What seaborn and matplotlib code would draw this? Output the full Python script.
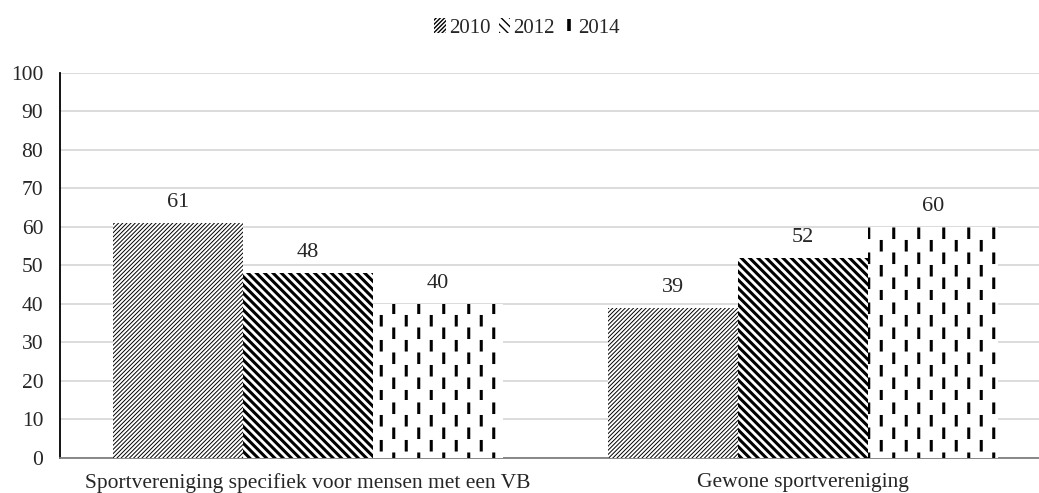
import warnings
import numpy as np
import pandas as pd
import matplotlib
matplotlib.use("Agg")
import matplotlib.pyplot as plt
import matplotlib.hatch as mhatch
from matplotlib.path import Path
from matplotlib.patches import Patch
from matplotlib.lines import Line2D
import seaborn as sns

warnings.filterwarnings("ignore")

### data
categories = ["Sportvereniging specifiek voor mensen met een VB", "Gewone sportvereniging"]
years = ["2010", "2012", "2014"]
values_2010 = [61, 39]
values_2012 = [48, 52]
values_2014 = [40, 60]

df = pd.DataFrame({
    "cat": categories * 3,
    "year": [y for y in years for _ in categories],
    "val": values_2010 + values_2012 + values_2014,
})


### custom hatch: staggered vertical dashes, triggered by ':'
class VerticalDashes(mhatch.HatchPatternBase):
    def __init__(self, hatch, density):
        self.cols = 8 * hatch.count(':')
        self.rows = 4
        self.num_vertices = self.cols * self.rows * 2 if self.cols else 0

    def set_vertices_and_codes(self, vertices, codes):
        i = 0
        dash = 0.085
        for c in range(self.cols):
            x = (c + 0.5) / self.cols
            off = 0.5 / self.rows if c % 2 else 0.0
            for r in range(self.rows):
                y0 = (r / self.rows + off) % 1.0
                y1 = y0 + dash
                if y1 > 1.0:
                    y0, y1 = y0 - dash, y0
                vertices[i] = (x, y0)
                vertices[i + 1] = (x, y1)
                codes[i] = Path.MOVETO
                codes[i + 1] = Path.LINETO
                i += 2


mhatch._hatch_types.append(VerticalDashes)

hatches = ["/" * 8, "\\" * 4, ":"]
hatch_lw = [0.7, 2.2, 2.2]

sns.set_style("white")
plt.rcParams["font.family"] = ["Liberation Serif", "DejaVu Serif"]

fig = plt.figure(figsize=(10.39, 4.93), dpi=100)
ax = fig.add_axes([0.0577, 0.071, 0.9423, 0.781])

sns.barplot(data=df, x="cat", y="val", hue="year", palette=["white"] * 3,
            edgecolor="black", linewidth=0, width=0.787, ax=ax, legend=False,
            errorbar=None, zorder=3)

for cont, h, lw in zip(ax.containers, hatches, hatch_lw):
    for bar in cont:
        bar.set_hatch(h)
        bar.set_edgecolor("black")
        if hasattr(bar, "set_hatch_linewidth"):
            bar.set_hatch_linewidth(lw)
    ax.bar_label(cont, fmt="%d", padding=8, fontsize=16)

ax.set_ylim(0, 100)
ax.set_yticks(range(0, 101, 10))
ax.set_xlim(-0.5, 1.476)
ax.set_xlabel("")
ax.set_ylabel("")
ax.grid(axis="y", color="#d9d9d9", linewidth=1.3, zorder=0)
ax.set_axisbelow(True)
ax.tick_params(axis="y", length=0, labelsize=15.5, pad=12)
ax.tick_params(axis="x", length=0, labelsize=15.5, pad=11)
for s in ["top", "right"]:
    ax.spines[s].set_visible(False)
ax.spines["left"].set_color("black")
ax.spines["left"].set_linewidth(1.3)
ax.spines["bottom"].set_color("#7f7f7f")
ax.spines["bottom"].set_linewidth(1.3)

### legend: hatched squares for 2010/2012, single dash for 2014
handles = []
for y, h, lw in zip(years[:2], hatches[:2], hatch_lw[:2]):
    p = Patch(facecolor="white", edgecolor="black", linewidth=0, hatch=h, label=y)
    if hasattr(p, "set_hatch_linewidth"):
        p.set_hatch_linewidth(lw)
    handles.append(p)
handles.append(Line2D([], [], color="black", linestyle="none", marker="|",
                      markersize=8, markeredgewidth=2.6, label=years[2]))
fig.legend(handles=handles, loc="center", bbox_to_anchor=(0.507, 0.944), ncol=3,
           frameon=False, fontsize=15, handlelength=0.55, handleheight=0.8,
           handletextpad=0.15, columnspacing=0.4)

fig.savefig("out.png", dpi=100)
